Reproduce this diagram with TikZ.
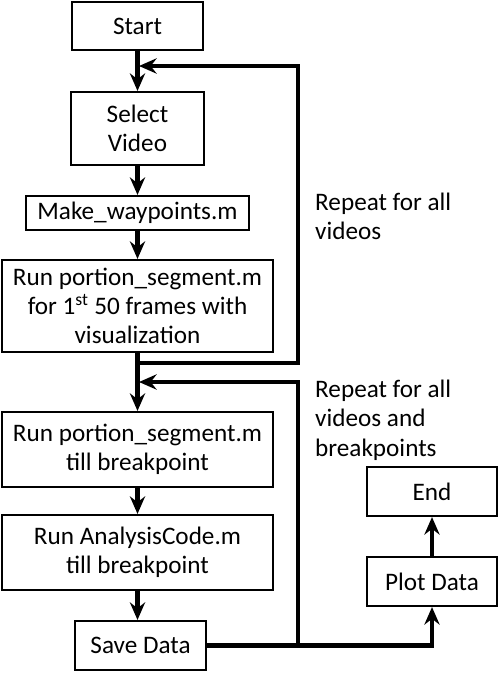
\documentclass[tikz,border=0pt]{standalone}
\usepackage{fontspec}
\setmainfont{Carlito}
\usetikzlibrary{arrows.meta, positioning}

\begin{document}
\begin{tikzpicture}[x=0.03cm,y=-0.03cm,
        font=\fontsize{21.5}{25}\selectfont,
        box/.style={draw, line width=1.8pt, align=center, inner sep=0pt},
        flow/.style={line width=4pt, line join=miter, -{Stealth[length=15pt,width=13pt,inset=5pt]}},
        note/.style={anchor=west, align=left, inner sep=0pt}]
        \useasboundingbox (0,0) rectangle (500,673);
        % main column
        \node[box, minimum width=3.93cm, minimum height=1.44cm] (start) at (137.5,26) {Start};
        \node[box, minimum width=3.99cm, minimum height=2.19cm] (select) at (137.5,128.5) {Select\\Video};
        \node[box, minimum width=6.69cm, minimum height=1.02cm] (waypts) at (137.5,213) {Make\_waypoints.m};
        \node[box, minimum width=8.13cm, minimum height=2.76cm] (firstrun) at (137.5,306) {Run portion\_segment.m\\for 1\textsuperscript{st} 50 frames with\\visualization};
        \node[box, minimum width=8.13cm, minimum height=2.25cm] (segrun) at (137.5,449.5) {Run portion\_segment.m\\till breakpoint};
        \node[box, minimum width=8.13cm, minimum height=2.25cm] (analysis) at (137.5,552.5) {Run AnalysisCode.m\\till breakpoint};
        \node[box, minimum width=3.93cm, minimum height=1.47cm] (save) at (140.5,645.5) {Save Data};
        % right column
        \node[box, minimum width=3.9cm, minimum height=1.47cm] (plot) at (432,581.5) {Plot Data};
        \node[box, minimum width=3.9cm, minimum height=1.47cm] (finish) at (432,491.5) {End};
        \node[note] (rep1) at (315,216) {Repeat for all\\videos};
        \node[note] (rep2) at (315,420) {Repeat for all\\videos and\\breakpoints};
        \coordinate (loop1) at (298,363);
        \coordinate (join1) at (139,66);
        \coordinate (loop2) at (298,382);
        \coordinate (join2) at (139,382);
        % connectors
        \draw[flow] (start.south) -- (select.north);
        \draw[flow] (select.south) -- (waypts.north);
        \draw[flow] (waypts.south) -- (firstrun.north);
        \draw[flow] (firstrun.south) |- (loop1) |- (join1);
        \draw[flow] (firstrun.south) -- (segrun.north);
        \draw[flow] (segrun.south) -- (analysis.north);
        \draw[flow] (analysis.south) -- (analysis.south |- save.north);
        \draw[flow] (save.east) -| (loop2) -- (join2);
        \draw[flow] (save.east) -| (plot.south);
        \draw[flow] (plot.north) -- (finish.south);
    \end{tikzpicture}
\end{document}
